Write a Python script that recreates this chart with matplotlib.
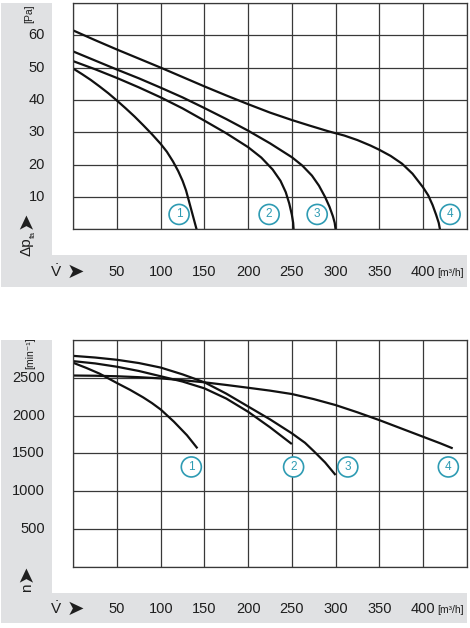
import matplotlib
matplotlib.use('Agg')
import matplotlib.pyplot as plt
import matplotlib.transforms as mtransforms
from matplotlib.patches import Rectangle

plt.rcParams['font.family'] = ['Liberation Sans', 'DejaVu Sans']
plt.rcParams['mathtext.fontset'] = 'custom'
plt.rcParams['mathtext.rm'] = 'Liberation Sans'

# Data
# pressure curves: flow [m3/h] -> static pressure [Pa]
p_v1 = [0, 10, 20, 30, 40, 50, 60, 70, 80, 90, 100, 107, 114, 120, 125,
        129, 132, 135, 137.5, 139.5, 141]
p_y1 = [49.7, 48, 46.2, 44.2, 42.1, 39.8, 37.4, 34.9, 32.2, 29.4, 26.4, 24,
        21, 18, 15, 12, 9, 6, 3.5, 1.5, 0]
p_v2 = [0, 25, 50, 75, 100, 125, 150, 175, 200, 215, 228, 237, 243, 247,
        250, 251.5, 252]
p_y2 = [52, 49.5, 46.8, 43.9, 40.8, 37.4, 33.6, 29.7, 25.4, 22.2, 18.5, 15,
        11.5, 8, 4.5, 2, 0]
p_v3 = [0, 25, 50, 75, 100, 125, 150, 175, 200, 225, 250, 262, 273, 281,
        288, 293, 297, 299, 300]
p_y3 = [55, 52.2, 49.4, 46.7, 43.8, 40.8, 37.5, 34.1, 30.5, 26.6, 22.3, 19.7,
        16.6, 13.5, 10, 7, 4, 2, 0]
p_v4 = [0, 25, 50, 75, 100, 125, 150, 175, 200, 225, 250, 270, 292, 310,
        325, 340, 350, 363, 376, 388, 400, 406, 411, 415, 418, 419.4]
p_y4 = [61.5, 58.5, 55.6, 52.8, 50, 47.1, 44.2, 41.4, 38.7, 36.1, 33.8, 32.1,
        30.3, 29, 27.6, 25.9, 24.6, 22.7, 20.3, 17.2, 13, 10.5, 7.5, 4.5, 2, 0]

# speed curves: flow [m3/h] -> speed [1/min]
n_v1 = [0, 15, 30, 50, 65, 80, 90, 100, 115, 130, 142]
n_y1 = [2698, 2630, 2555, 2430, 2340, 2240, 2165, 2080, 1920, 1740, 1566]
n_v2 = [0, 25, 50, 75, 100, 125, 150, 175, 200, 225, 250]
n_y2 = [2720, 2690, 2646, 2590, 2520, 2450, 2360, 2225, 2050, 1845, 1623]
n_v3 = [0, 25, 50, 75, 100, 125, 150, 175, 200, 225, 250, 265, 275, 288, 300]
n_y3 = [2790, 2768, 2738, 2695, 2635, 2545, 2440, 2290, 2120, 1950, 1765,
        1640, 1530, 1380, 1213]
n_v4 = [0, 25, 50, 75, 100, 125, 150, 175, 200, 225, 250, 275, 300, 325,
        350, 375, 400, 420, 434]
n_y4 = [2530, 2527, 2520, 2508, 2492, 2468, 2440, 2405, 2368, 2330, 2285,
        2218, 2139, 2043, 1940, 1830, 1720, 1632, 1566]

curve_ids = ['1', '2', '3', '4']
p_label_v = [121, 224, 279, 431]
p_label_y = 4.6
n_label_v = [135, 252, 314, 429]
n_label_y = 1320

x_ticks = [50, 100, 150, 200, 250, 300, 350, 400]
p_ticks = [10, 20, 30, 40, 50, 60]
n_ticks = [500, 1000, 1500, 2000, 2500]

W, H = 470, 628
GRAY = '#e0e1e3'
TEAL = '#2e9bb3'
GRID = '#383838'
TXT = '#1e1e1e'

fig = plt.figure(figsize=(W / 100, H / 100), dpi=100)


def fbox(x0, y0, x1, y1):
    return [x0 / W, 1 - y1 / H, (x1 - x0) / W, (y1 - y0) / H]


def gray(x0, y0, x1, y1):
    l, b, w, h = fbox(x0, y0, x1, y1)
    fig.add_artist(Rectangle((l, b), w, h, transform=fig.transFigure,
                             fc=GRAY, ec='none', zorder=0))


def ftext(x, y, s, **kw):
    kw.setdefault('color', TXT)
    fig.text(x / W, 1 - y / H, s, **kw)


# grey L shaped frames behind the axis labels
gray(1, 3, 52, 287)
gray(1, 255, 467, 287)
gray(1, 340, 52, 623)
gray(1, 593, 467, 623)


def setup(ax, ymax, ystep):
    ax.set_xlim(0, 450)
    ax.set_ylim(0, ymax)
    ax.set_xticks(range(0, 451, 50))
    ax.set_yticks(range(0, ymax + 1, ystep))
    ax.tick_params(length=0, labelbottom=False, labelleft=False)
    ax.grid(True, color=GRID, lw=0.9)
    ax.set_axisbelow(True)
    for s in ax.spines.values():
        s.set_color(GRID)
        s.set_linewidth(0.9)


ax1 = fig.add_axes(fbox(73.3, 3, 466.7, 229.3))
setup(ax1, 70, 10)
for v, y in [(p_v1, p_y1), (p_v2, p_y2), (p_v3, p_y3), (p_v4, p_y4)]:
    ax1.plot(v, y, color='#111111', lw=1.6, solid_capstyle='butt',
             solid_joinstyle='round')

ax2 = fig.add_axes(fbox(73.3, 340, 466.7, 566.7))
setup(ax2, 3000, 500)
for v, y in [(n_v1, n_y1), (n_v2, n_y2), (n_v3, n_y3), (n_v4, n_y4)]:
    ax2.plot(v, y, color='#111111', lw=1.6, solid_capstyle='butt',
             solid_joinstyle='round')

circ = dict(boxstyle='circle,pad=0.34', fc='white', ec=TEAL, lw=1.2)
for i, c in enumerate(curve_ids):
    ax1.text(p_label_v[i], p_label_y, c, color=TEAL, fontsize=8.5, ha='center',
             va='center', bbox=circ, zorder=5)
    ax2.text(n_label_v[i], n_label_y, c, color=TEAL, fontsize=8.5, ha='center',
             va='center', bbox=circ, zorder=5)

# tick labels
for ax, ty, yt in [(ax1, 272, p_ticks), (ax2, 609, n_ticks)]:
    tx = mtransforms.blended_transform_factory(ax.transData, fig.transFigure)
    for v in x_ticks:
        ax.text(v, 1 - ty / H, str(v), transform=tx, ha='center', va='center',
                fontsize=10.5, color=TXT)
    tyy = mtransforms.blended_transform_factory(fig.transFigure, ax.transData)
    for v in yt:
        ax.text(45 / W, v, str(v), transform=tyy, ha='right',
                va='center', fontsize=10.5, color=TXT)
    ftext(437, ty + 1, '[m³/h]', fontsize=7.5, ha='left', va='center')
    ftext(56, ty, r'$\dot{\mathrm{V}}$', fontsize=11, ha='center', va='center')
    ftext(75, ty, '➤', fontsize=15, ha='center', va='center',
          family=['DejaVu Sans'])

# y axis names
ftext(29, 14, '[Pa]', fontsize=7.5, rotation=90, ha='center', va='center')
ftext(25.5, 220, '➤', fontsize=15, rotation=90, ha='center', va='center',
      family=['DejaVu Sans'])
ftext(26, 247, 'Δp', fontsize=11, rotation=90, ha='center', va='center')
ftext(33.5, 234, 'fa', fontsize=6, rotation=90, ha='center', va='center')

ftext(30, 353, '[min⁻¹]', fontsize=7.5, rotation=90, ha='center', va='center')
ftext(25.5, 573, '➤', fontsize=15, rotation=90, ha='center', va='center',
      family=['DejaVu Sans'])
ftext(27, 588, 'n', fontsize=11, rotation=90, ha='center', va='center')

fig.savefig('out.png', dpi=100)
